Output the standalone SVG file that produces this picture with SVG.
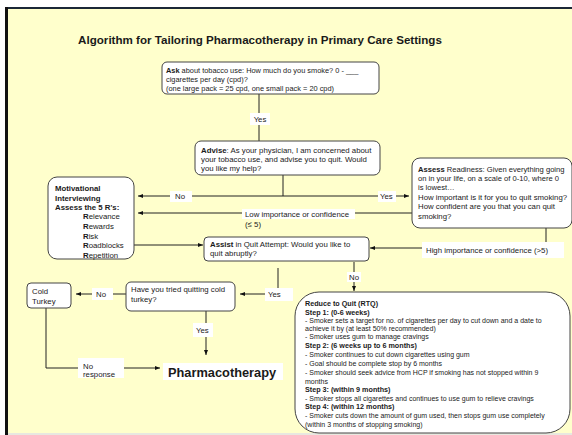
<svg xmlns="http://www.w3.org/2000/svg" width="572" height="435" viewBox="0 0 572 435">
<defs>
<marker id="ah" viewBox="0 0 10 10" refX="10" refY="5" markerWidth="5" markerHeight="5" orient="auto" markerUnits="userSpaceOnUse">
<path d="M0,1 L10,5 L0,9 z" fill="#111"/>
</marker>
<style>
text{font-family:"Liberation Sans",Arial,sans-serif;fill:#1a1a1a}
.box{fill:#fff;stroke:#444;stroke-width:1}
.t{font-size:7.8px}
.a{font-size:7.4px}
.as{font-size:7.6px}
.s{font-size:7px}
.sb{font-size:7.2px;font-weight:bold}
.b{font-weight:bold}
.c{fill:none;stroke:#222;stroke-width:1}
.ca{fill:none;stroke:#222;stroke-width:1;marker-end:url(#ah)}
.lbl{fill:#fff}
</style>
</defs>
<rect x="0" y="0" width="572" height="435" fill="#fff"/>
<rect x="8" y="9" width="564" height="424" fill="#ffffcc"/>
<rect x="5" y="7" width="567" height="2" fill="#1b2836"/>
<rect x="5" y="7" width="3" height="428" fill="#111"/>
<rect x="8" y="433" width="564" height="2" fill="#e8e8e0"/>

<text x="260" y="44" text-anchor="middle" font-size="11.6" font-weight="bold">Algorithm for Tailoring Pharmacotherapy in Primary Care Settings</text>

<g id="connectors">
<line class="c" x1="259" y1="94" x2="259" y2="141"/>
<rect class="lbl" x="250" y="113" width="20" height="12"/>
<text class="t" x="260" y="122" text-anchor="middle">Yes</text>

<line class="c" x1="283" y1="175" x2="283" y2="196"/>
<line class="ca" x1="283" y1="196" x2="138" y2="196"/>
<line class="ca" x1="283" y1="196" x2="409" y2="196"/>
<rect class="lbl" x="170" y="191" width="22" height="11"/>
<text class="t" x="175" y="199">No</text>
<rect class="lbl" x="378" y="191" width="18" height="11"/>
<text class="t" x="380" y="199">Yes</text>

<line class="ca" x1="412" y1="213" x2="138" y2="213"/>
<rect class="lbl" x="242" y="209" width="113" height="10"/>
<text class="t" x="245" y="216.5">Low importance or confidence</text>
<text class="t" x="245" y="227">(≤ 5)</text>

<line class="ca" x1="134" y1="245" x2="203" y2="245"/>

<polyline class="ca" points="546,228 546,248 370,248"/>
<rect class="lbl" x="422" y="242" width="142" height="16"/>
<text class="t" x="426" y="252.5">High importance or confidence (&gt;5)</text>

<line class="ca" x1="354" y1="262" x2="354" y2="291"/>
<rect class="lbl" x="347" y="272" width="14" height="10"/>
<text class="t" x="354" y="279.5" text-anchor="middle">No</text>

<polyline class="ca" points="278,268 278,294 240,294"/>
<rect class="lbl" x="265" y="288" width="28" height="13"/>
<text class="t" x="268" y="297">Yes</text>

<line class="ca" x1="126" y1="294" x2="76" y2="294"/>
<rect class="lbl" x="92" y="288" width="21" height="12"/>
<text class="t" x="96" y="297">No</text>

<line class="ca" x1="206" y1="311" x2="206" y2="355"/>
<rect class="lbl" x="193" y="323" width="20" height="14"/>
<text class="t" x="196" y="332.5">Yes</text>

<polyline class="ca" points="46,308 46,368 160,368"/>
<rect class="lbl" x="78" y="358" width="46" height="20"/>
<text class="t" x="83" y="368.5">No</text>
<text class="t" x="83" y="377">response</text>
</g>

<g id="ask">
<rect class="box" x="162" y="62" width="217" height="32" rx="5"/>
<text class="a" x="166" y="73"><tspan class="b">Ask</tspan> about tobacco use: How much do you smoke? 0 - ___</text>
<text class="a" x="166" y="81.5">cigarettes per day (cpd)?</text>
<text class="a" x="166" y="91">(one large pack = 25 cpd, one small pack = 20 cpd)</text>
</g>

<g id="advise">
<rect class="box" x="195" y="141" width="185" height="34" rx="6"/>
<text class="t" x="201" y="153"><tspan class="b">Advise</tspan>: As your physician, I am concerned about</text>
<text class="t" x="201" y="162">your tobacco use, and advise you to quit.  Would</text>
<text class="t" x="201" y="171">you like my help?</text>
</g>

<g id="assess">
<rect class="box" x="412" y="158" width="160" height="70" rx="8"/>
<text class="as" x="418" y="172"><tspan class="b">Assess</tspan> Readiness: Given everything going</text>
<text class="as" x="418" y="181">on in your life, on a scale of 0-10, where 0</text>
<text class="as" x="418" y="190">is lowest…</text>
<text class="t" x="418" y="200">How important is it for you to quit smoking?</text>
<text class="t" x="418" y="209">How confident are you that you can quit</text>
<text class="t" x="418" y="219">smoking?</text>
</g>

<g id="motivational">
<rect class="box" x="48" y="177" width="86" height="82" rx="9"/>
<text class="t b" x="55" y="191">Motivational</text>
<text class="t b" x="55" y="200.5">Interviewing</text>
<text class="t b" x="55" y="210">Assess the 5 R's:</text>
<text class="t" x="83" y="219"><tspan class="b">R</tspan>elevance</text>
<text class="t" x="83" y="229"><tspan class="b">R</tspan>ewards</text>
<text class="t" x="83" y="239"><tspan class="b">R</tspan>isk</text>
<text class="t" x="83" y="248"><tspan class="b">R</tspan>oadblocks</text>
<text class="t" x="83" y="258"><tspan class="b">R</tspan>epetition</text>
</g>

<g id="assist">
<rect class="box" x="204" y="237" width="165" height="24" rx="4"/>
<text class="t" x="210" y="247"><tspan class="b">Assist</tspan> in Quit Attempt: Would you like to</text>
<text class="t" x="210" y="256">quit abruptly?</text>
</g>

<g id="coldturkey">
<rect class="box" x="27" y="283" width="44" height="25" rx="4"/>
<text class="t" x="32" y="294">Cold</text>
<text class="t" x="32" y="304">Turkey</text>
</g>

<g id="tried">
<rect class="box" x="126" y="282" width="109" height="29" rx="5"/>
<text class="t" x="131" y="291.5">Have you tried quitting cold</text>
<text class="t" x="131" y="301.5">turkey?</text>
</g>

<g id="pharmacotherapy">
<rect class="lbl" x="163" y="363" width="120" height="17"/>
<text x="168" y="377" font-size="12.8" font-weight="bold">Pharmacotherapy</text>
</g>

<g id="rtq">
<rect class="box" x="295" y="292" width="275" height="141" rx="24"/>
<text class="sb" x="305" y="305.5">Reduce to Quit (RTQ)</text>
<text class="sb" x="305" y="314.5">Step 1: (0-6 weeks)</text>
<text class="s" x="305" y="322.5">- Smoker sets a target for no. of cigarettes per day to cut down and a date to</text>
<text class="s" x="305" y="330.5">achieve it by (at least 50% recommended)</text>
<text class="s" x="305" y="339">- Smoker uses gum to manage cravings</text>
<text class="sb" x="305" y="348">Step 2: (6 weeks up to 6 months)</text>
<text class="s" x="305" y="356.5">- Smoker continues to cut down cigarettes using gum</text>
<text class="s" x="305" y="365.5">- Goal should be complete stop by 6 months</text>
<text class="s" x="305" y="375">- Smoker should seek advice from HCP if smoking has not stopped within 9</text>
<text class="s" x="305" y="383.5">months</text>
<text class="sb" x="305" y="392">Step 3: (within 9 months)</text>
<text class="s" x="305" y="400.5">- Smoker stops all cigarettes and continues to use gum to relieve cravings</text>
<text class="sb" x="305" y="409">Step 4: (within 12 months)</text>
<text class="s" x="305" y="418">- Smoker cuts down the amount of gum used, then stops gum use completely</text>
<text class="s" x="305" y="426.5">(within 3 months of stopping smoking)</text>
</g>
</svg>
